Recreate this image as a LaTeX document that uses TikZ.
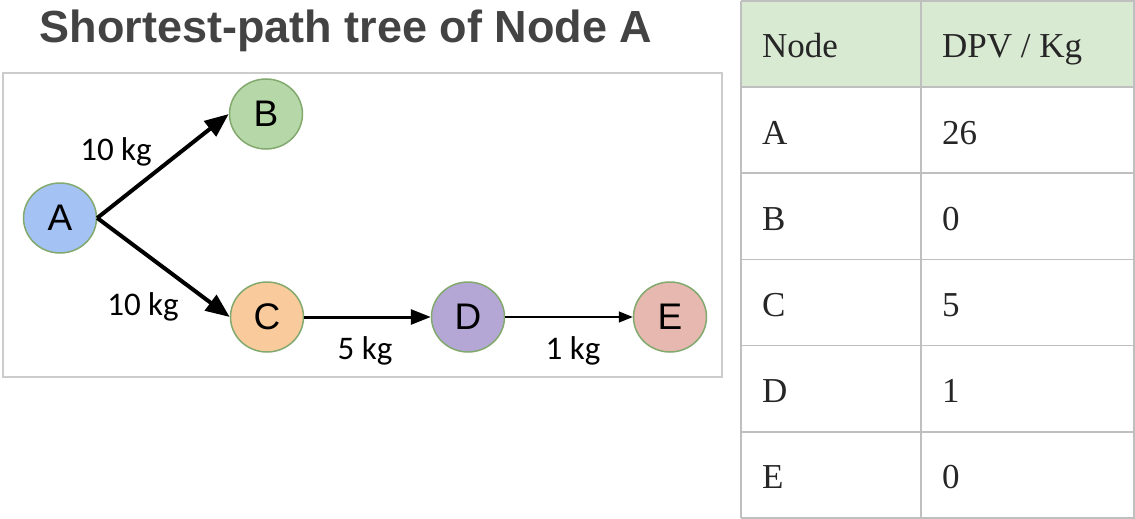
\documentclass[tikz,border=0pt]{standalone}
\usepackage{fontspec}
\setmainfont{Liberation Serif}
\newfontfamily\arialfont{Liberation Sans}
\newfontfamily\califont{Carlito}
\usepackage{tikz}
\usetikzlibrary{arrows.meta,positioning,shapes.geometric}
\definecolor{titleGray}{HTML}{434343}
\definecolor{nodeEdge}{HTML}{82A96E}
\definecolor{fillA}{HTML}{A4C2F4}
\definecolor{fillB}{HTML}{B6D7A8}
\definecolor{fillC}{HTML}{F9CB9C}
\definecolor{fillD}{HTML}{B4A7D6}
\definecolor{fillE}{HTML}{E6B8AF}
\definecolor{headGreen}{HTML}{D9EAD3}
\definecolor{gridGray}{HTML}{BFBFBF}
\definecolor{boxGray}{HTML}{CCCCCC}

\begin{document}
\begin{tikzpicture}[x=1pt,y=-1pt,
  vert/.style={draw=nodeEdge, line width=1.5pt, ellipse, minimum width=73pt, minimum height=70pt, inner sep=0pt, font=\arialfont\fontsize{37}{37}\selectfont},
  wt/.style={font=\califont\fontsize{33}{33}\selectfont},
  cell/.style={anchor=base west, inner sep=0pt, text=black!85, font=\fontsize{35}{35}\selectfont}]
\useasboundingbox (0,0) rectangle (1135,519);
\node[anchor=base, font=\arialfont\bfseries\fontsize{45}{45}\selectfont, text=titleGray] (title) at (346,43) {Shortest-path tree of Node A};
\draw[boxGray, line width=2pt] (3,73) rectangle (722,377);
% tree
\node[vert, fill=fillA] (A) at (60,218) {A};
\node[vert, fill=fillB] (B) at (266,114) {B};
\node[vert, fill=fillC] (C) at (267,317) {C};
\node[vert, fill=fillD] (D) at (468,317) {D};
\node[vert, fill=fillE] (E) at (670,317) {E};
\draw[-{Triangle[length=24pt,width=19pt]}, line width=4pt] (A.east) -- (B.west);
\draw[-{Triangle[length=24pt,width=19pt]}, line width=4pt] (A.east) -- (C.west);
\draw[-{Triangle[length=20pt,width=15pt]}, line width=3pt] (C) -- (D);
\draw[-{Triangle[length=14pt,width=11pt]}, line width=1.5pt] (D) -- (E);
\node[wt] (wAB) at (116,152) {10 kg};
\node[wt] (wAC) at (143,307) {10 kg};
\node[wt] (wCD) at (365,351) {5 kg};
\node[wt] (wDE) at (573,351) {1 kg};
% table
\fill[headGreen] (741,1) rectangle (1135,87);
\foreach \y in {1,87,173.2,259.4,345.6,431.8,518}
  \draw[gridGray, line width=1.5pt] (741,\y) -- (1135,\y);
\foreach \x in {741,921,1134}
  \draw[gridGray, line width=1.5pt] (\x,1) -- (\x,518);
\node[cell] (hNode) at (762,58) {Node};
\node[cell] (hDPV) at (942,58) {DPV / Kg};
\foreach \n/\v [count=\i] in {A/26,B/0,C/5,D/1,E/0} {
  \node[cell] (n\i) at (762,{87+(\i-0.5)*86.2+14}) {\n};
  \node[cell] (v\i) at (942,{87+(\i-0.5)*86.2+14}) {\v};
}
\end{tikzpicture}
\end{document}
